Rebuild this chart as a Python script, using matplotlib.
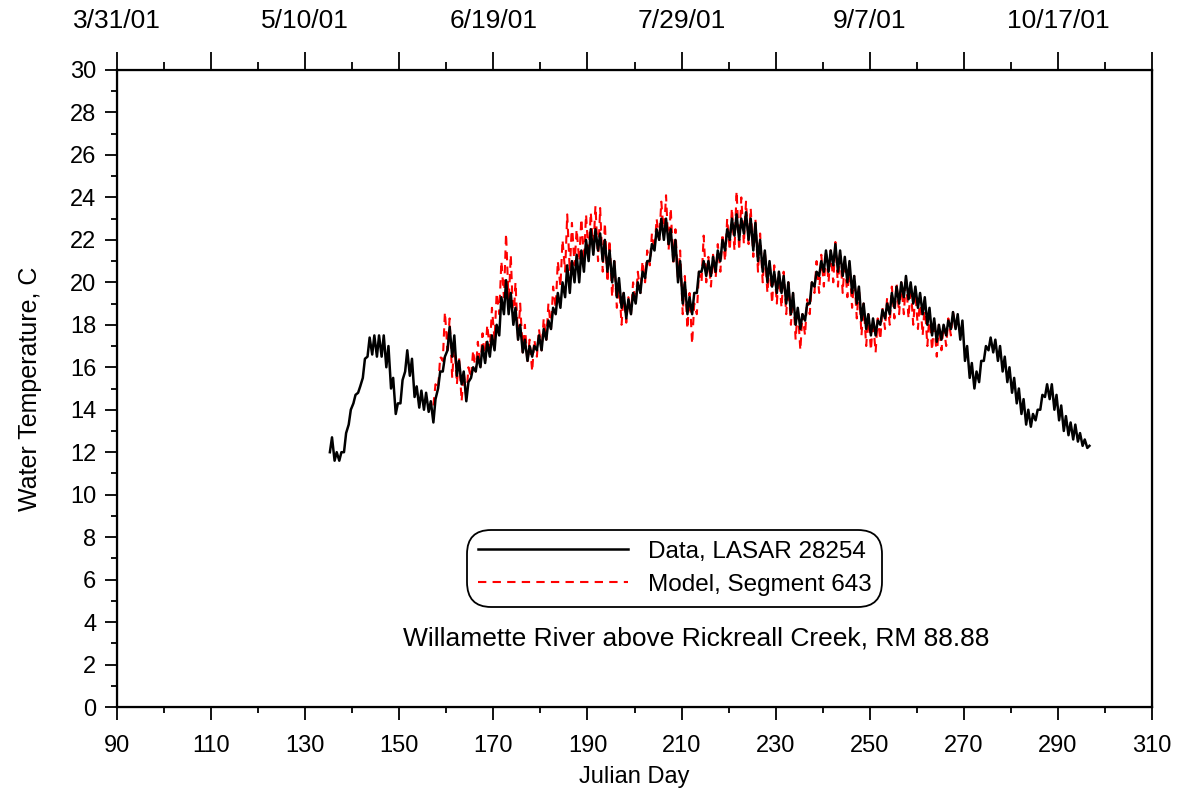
import numpy as np
import matplotlib
matplotlib.use("Agg")
import matplotlib.pyplot as plt

plt.rcParams['font.family'] = ['Liberation Sans', 'DejaVu Sans']

# Data, LASAR 28254 : daily min / max (Julian days 135-296)
data_days = np.arange(135, 297)
data_min = [12.0, 11.6, 11.6, 12.0, 13.3, 14.3, 14.8, 15.5, 16.5, 16.6,
            16.5, 16.5, 16.0, 15.0, 13.8, 14.3, 15.8, 15.6, 14.6, 14.1,
            14.0, 13.9, 13.4, 15.0, 15.8, 16.8, 16.5, 15.6, 15.2, 14.4,
            15.5, 15.8, 16.0, 16.2, 16.5, 16.8, 17.5, 18.5, 18.5, 18.0,
            17.3, 16.7, 16.3, 16.5, 16.8, 16.8, 17.3, 17.8, 18.5, 18.8,
            19.3, 19.5, 20.0, 20.0, 20.5, 21.0, 21.3, 21.5, 21.0, 20.5,
            20.0, 19.3, 18.8, 18.3, 18.5, 19.0, 19.5, 20.2, 21.0, 21.5,
            22.0, 22.0, 21.8, 21.0, 20.0, 19.0, 18.5, 18.5, 19.5, 20.5,
            20.3, 20.3, 20.5, 21.0, 21.5, 22.0, 22.2, 22.0, 22.3, 22.0,
            21.5, 21.0, 20.5, 20.0, 19.8, 19.5, 19.5, 19.0, 18.5, 18.0,
            17.8, 18.2, 19.0, 19.8, 20.3, 20.5, 20.5, 20.8, 20.5, 20.3,
            20.0, 19.5, 19.0, 18.2, 17.8, 17.5, 17.5, 18.0, 18.3, 18.5,
            18.8, 19.0, 19.3, 19.2, 19.0, 18.8, 18.5, 18.0, 17.5, 17.2,
            17.3, 17.5, 17.8, 17.8, 17.3, 16.3, 15.5, 15.0, 15.3, 16.3,
            16.8, 16.7, 16.3, 15.8, 15.3, 14.8, 14.3, 13.8, 13.3, 13.2,
            13.5, 14.0, 14.6, 14.5, 14.0, 13.5, 13.0, 12.8, 12.6, 12.5,
            12.3, 12.2]
data_max = [12.7, 12.0, 12.0, 12.9, 14.0, 14.7, 15.1, 16.4, 17.4, 17.5,
            17.5, 17.5, 17.0, 15.5, 14.3, 15.4, 16.8, 16.4, 15.1, 14.9,
            14.8, 14.4, 14.5, 15.8, 16.5, 17.9, 17.5, 16.3, 15.8, 15.3,
            16.0, 16.5, 17.0, 17.2, 17.5, 18.0, 19.3, 20.1, 19.5, 18.8,
            18.0, 17.3, 17.0, 17.0, 17.5, 17.8, 18.2, 18.8, 19.5, 20.0,
            20.8, 21.0, 21.3, 21.5, 22.0, 22.5, 22.5, 22.3, 22.0, 21.5,
            21.0, 20.2, 19.5, 19.2, 19.5, 20.0, 20.5, 21.0, 21.8, 22.5,
            23.0, 23.0, 22.5, 22.0, 21.0, 20.0, 19.3, 19.5, 20.5, 21.0,
            21.0, 21.2, 21.5, 22.0, 22.5, 23.0, 23.2, 23.0, 23.3, 23.0,
            22.8, 22.0, 21.5, 21.0, 20.5, 20.5, 20.3, 20.0, 19.5, 18.8,
            18.5, 19.0, 20.0, 20.5, 21.0, 21.5, 21.5, 21.8, 21.5, 21.2,
            21.0, 20.3, 19.8, 19.0, 18.5, 18.3, 18.2, 18.7, 19.0, 19.5,
            19.8, 20.0, 20.3, 20.0, 19.8, 19.5, 19.3, 18.8, 18.3, 18.0,
            18.0, 18.2, 18.6, 18.5, 18.2, 17.0, 16.2, 15.8, 16.3, 17.0,
            17.4, 17.3, 17.0, 16.5, 16.0, 15.5, 15.0, 14.5, 14.0, 13.8,
            14.0, 14.7, 15.2, 15.2, 14.7, 14.2, 13.7, 13.4, 13.3, 12.9,
            12.6, 12.3]

# Model, Segment 643 : daily min / max (Julian days 157-268)
model_days = np.arange(157, 269)
model_min = [14.2, 15.0, 16.3, 16.8, 15.5, 15.2, 14.4, 14.5, 15.5, 15.8,
             16.0, 16.3, 16.8, 17.3, 18.5, 19.3, 19.0, 18.0, 17.3, 16.7,
             16.2, 15.8, 16.5, 16.8, 17.3, 17.8, 18.8, 19.8, 20.5, 20.5,
             20.8, 21.0, 21.0, 21.2, 21.5, 21.0, 20.5, 20.0, 19.3, 18.8,
             18.0, 18.1, 18.5, 19.0, 19.5, 20.0, 20.8, 21.5, 22.0, 22.2,
             21.5, 20.8, 20.0, 18.5, 17.8, 17.1, 18.5, 20.0, 20.0, 19.8,
             20.2, 20.5, 21.0, 21.5, 21.5, 21.5, 21.8, 21.8, 21.2, 20.5,
             20.0, 19.5, 19.0, 19.0, 18.8, 18.5, 18.0, 17.3, 16.8, 17.5,
             18.5, 19.5, 19.5, 19.8, 20.0, 20.0, 19.8, 19.5, 19.3, 18.8,
             18.3, 17.5, 17.0, 16.8, 16.7, 17.3, 17.8, 18.0, 18.3, 18.5,
             18.5, 18.3, 18.0, 17.8, 17.5, 17.0, 16.8, 16.5, 16.8, 17.0,
             17.5, 17.9]
model_max = [15.2, 16.5, 18.6, 18.3, 17.2, 16.5, 15.8, 16.0, 16.8, 17.2,
             17.6, 18.0, 18.8, 19.5, 21.0, 22.3, 21.3, 20.0, 19.0, 18.0,
             17.3, 17.3, 17.8, 18.3, 19.0, 19.8, 21.0, 22.0, 23.2, 22.8,
             22.5, 23.0, 23.2, 23.3, 23.6, 23.5, 22.8, 22.0, 21.0, 20.0,
             19.5, 19.3, 20.0, 20.5, 21.0, 21.5, 22.3, 23.0, 23.8, 24.1,
             23.5, 22.5, 21.5, 20.3, 19.5, 19.0, 20.5, 22.2, 21.2, 21.3,
             21.8, 22.3, 23.0, 23.5, 24.3, 24.0, 23.8, 23.5, 23.0, 22.3,
             21.5, 21.0, 20.8, 20.5, 20.5, 20.0, 19.5, 18.8, 18.5, 19.2,
             20.0, 21.0, 21.3, 21.5, 21.5, 21.9, 21.5, 21.0, 20.8, 20.3,
             19.8, 19.0, 18.5, 18.2, 18.3, 18.8, 19.3, 19.8, 20.0, 20.0,
             20.2, 19.8, 19.5, 19.3, 19.0, 18.5, 18.2, 18.0, 18.0, 18.3,
             18.6, 18.4]

x_major = np.arange(90, 311, 20)
x_minor = np.arange(100, 310, 20)
top_days = [90, 130, 170, 210, 250, 290]
top_labels = ['3/31/01', '5/10/01', '6/19/01', '7/29/01', '9/7/01', '10/17/01']


def zigzag(days, lo, hi):
    # alternate the daily low (early morning) and high (afternoon) readings
    t = np.column_stack([days + 0.25, days + 0.7]).ravel()
    v = np.column_stack([lo, hi]).ravel()
    return t, v


fig = plt.figure(figsize=(11.83, 8), dpi=100)
ax = fig.add_axes([0.0989, 0.11625, 0.8749, 0.79625])

t1, v1 = zigzag(data_days, np.array(data_min), np.array(data_max))
t2, v2 = zigzag(model_days, np.array(model_min), np.array(model_max))
ax.plot(t1, v1, color='black', lw=1.8, label='Data, LASAR 28254', zorder=3)
ax.plot(t2, v2, color='red', lw=1.5, ls=(0, (4, 3)), label='Model, Segment 643', zorder=2)

ax.set_xlim(90, 310)
ax.set_ylim(0, 30)
ax.set_xticks(x_major)
ax.set_xticks(x_minor, minor=True)
ax.set_yticks(np.arange(0, 31, 2))
ax.set_yticks(np.arange(1, 30, 2), minor=True)
ax.tick_params(which='major', direction='out', length=9, width=1.3, labelsize=17)
ax.tick_params(which='minor', direction='out', length=4.5, width=1.3)
ax.tick_params(axis='x', pad=11)
ax.tick_params(axis='y', pad=6)
for s in ax.spines.values():
    s.set_linewidth(1.6)

ax.set_xlabel('Julian Day', fontsize=17, labelpad=7)
ax.set_ylabel('Water Temperature, C', fontsize=18, labelpad=20)

# top axis with calendar dates
ax2 = ax.twiny()
ax2.set_xlim(90, 310)
ax2.set_xticks(x_major)
ax2.set_xticks(x_minor, minor=True)
labels = []
for d in x_major:
    labels.append(top_labels[top_days.index(d)] if d in top_days else '')
ax2.set_xticklabels(labels, family=['Liberation Sans Narrow', 'Liberation Sans'])
ax2.tick_params(which='major', direction='out', length=13, width=1.3, labelsize=19, pad=14)
ax2.tick_params(which='minor', direction='out', length=6, width=1.3)

leg = ax.legend(loc='center', bbox_to_anchor=(0.5387, 0.218), fontsize=17.5,
                handlelength=6.2, frameon=True, fancybox=True, edgecolor='black',
                framealpha=1, borderpad=0.45, labelspacing=0.45, handletextpad=0.8)
leg.get_frame().set_linewidth(1.3)
leg.get_frame().set_boxstyle('round', pad=0.0, rounding_size=1.0)

ax.text(0.560, 0.108, 'Willamette River above Rickreall Creek, RM 88.88',
        transform=ax.transAxes, ha='center', va='center', fontsize=19)

fig.savefig('out.png', dpi=100)
